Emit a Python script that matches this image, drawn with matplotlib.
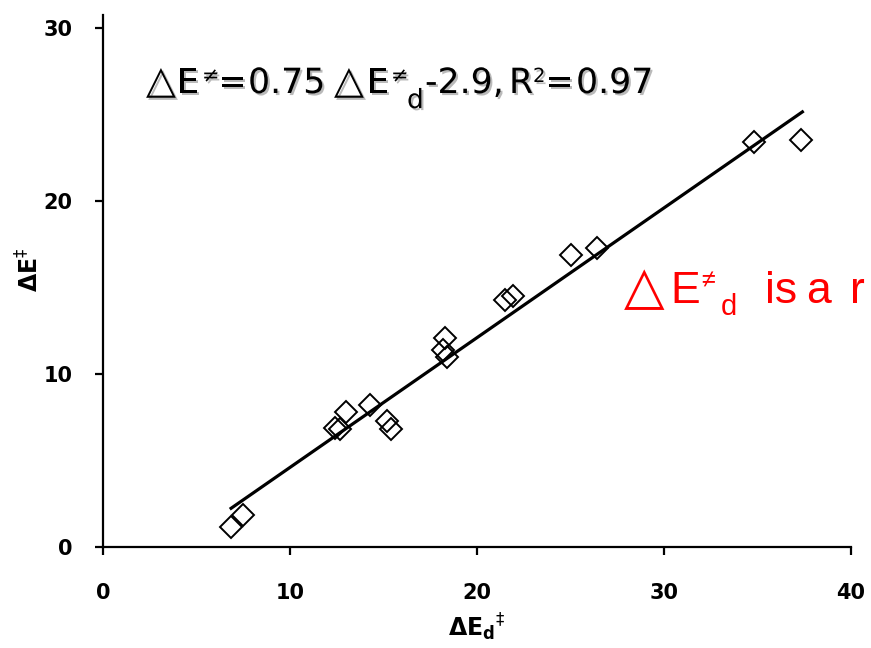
import matplotlib
matplotlib.use('Agg')
import matplotlib.pyplot as plt
import matplotlib.patheffects as pe
from matplotlib.transforms import IdentityTransform
import numpy as np

# data
de_d = [6.85, 7.5, 12.4, 12.7, 13.0, 14.3, 15.2, 15.4, 18.3, 18.2, 18.4,
        21.5, 21.9, 25.0, 26.4, 34.8, 37.3]
de = [1.15, 1.85, 6.9, 6.8, 7.8, 8.2, 7.3, 6.8, 12.1, 11.4, 11.0,
      14.3, 14.5, 16.9, 17.3, 23.4, 23.5]
slope = 0.75
intercept = -2.9
x_ticks = [0, 10, 20, 30, 40]
y_ticks = [0, 10, 20, 30]

W, H, DPI = 871, 648, 100
fig = plt.figure(figsize=(W / DPI, H / DPI), dpi=DPI)
fig.patch.set_facecolor('white')
ax = fig.add_axes([103 / W, 1 - 547 / H, 748 / W, 532 / H])

# fit line over the data span
xl = np.array([min(de_d), max(de_d) + 0.1])
ax.plot(xl, slope * xl + intercept, color='black', lw=2.3, zorder=2)
ax.plot(de_d, de, ls='none', marker='D', ms=11, mfc='none', mec='black',
        mew=1.4, zorder=3)

ax.set_xlim(0, 40)
ax.set_ylim(0, 30.75)
ax.set_xticks(x_ticks)
ax.set_yticks(y_ticks)
for s in ['top', 'right']:
    ax.spines[s].set_visible(False)
for s in ['left', 'bottom']:
    ax.spines[s].set_linewidth(1.6)
ax.tick_params(axis='both', direction='out', length=6, width=1.6,
               labelsize=15, pad=16)
ax.tick_params(axis='x', pad=20)
for lab in ax.get_xticklabels() + ax.get_yticklabels():
    lab.set_fontweight('bold')

plt.rcParams['mathtext.fontset'] = 'dejavusans'
fig.text(477 / W, 1 - 627 / H, r'$\mathbf{\Delta E_d}^{\ddagger}$',
         ha='center', va='center', fontsize=17, fontweight='bold')
fig.text(30 / W, 1 - 270 / H, r'$\mathbf{\Delta E}^{\ddagger}$',
         ha='center', va='center', fontsize=17, fontweight='bold',
         rotation=90)


def draw_runs(y, runs, color, fam, shadow=False):
    # runs: (text, size, x pixel, baseline shift in pixels)
    for s, size, x, dy in runs:
        t = fig.text(x, H - y + dy, s, transform=IdentityTransform(),
                     fontsize=size, color=color, family=fam,
                     ha='left', va='baseline')
        if shadow:
            t.set_path_effects([pe.withSimplePatchShadow(
                offset=(1.5, -1.5), shadow_rgbFace='0.55', alpha=0.6)])


sz = 25
tri = 28
draw_runs(93, [
    ('△', tri, 146, 0), ('E', sz, 177, 0), ('≠', 15, 202, 11),
    ('=', sz, 218, 0), ('0.75', sz, 248, 0), ('△', tri, 334, 0),
    ('E', sz, 367, 0), ('≠', 15, 391, 11), ('d', 19, 407, -15),
    ('-2.9,', sz, 425, 0), ('R', sz, 509, 0), ('2', 14, 533, 11),
    ('=', sz, 545, 0), ('0.97', sz, 576, 0)],
    'black', ['DejaVu Sans'], shadow=True)

rs = 32
draw_runs(303, [
    ('△', 38, 624, 0), ('E', rs, 670, 0), ('≠', 18, 701, 16),
    ('d', 21, 721, -12), ('is', rs, 765, 0), ('a', rs, 806, 0),
    ('r', rs, 850, 0)], '#ff0000', ['Liberation Sans', 'DejaVu Sans'])

fig.savefig('out.png', dpi=DPI, facecolor='white')
